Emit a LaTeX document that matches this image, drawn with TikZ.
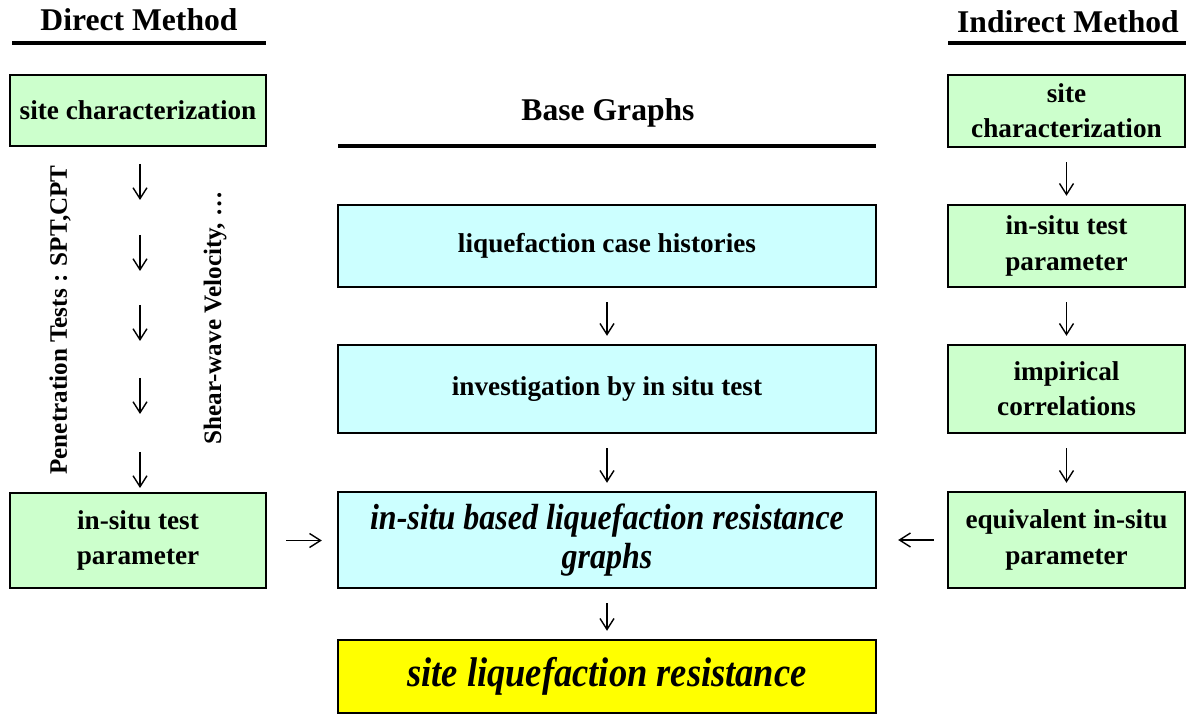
\documentclass[tikz,border=0pt]{standalone}
\usepackage{fontspec}
\setmainfont{Liberation Serif}
\newfontfamily\narrowit[FakeStretch=0.88]{Liberation Serif}
\usetikzlibrary{arrows.meta}
\definecolor{sitegreen}{HTML}{CCFFCC}
\definecolor{basecyan}{HTML}{CCFFFF}
\definecolor{resyellow}{HTML}{FFFF00}

\begin{document}
\begin{tikzpicture}[x=0.02cm, y=-0.02cm,
    box/.style={draw, line width=1.4pt, align=center, inner sep=0pt,
      font=\fontsize{15.5}{20}\selectfont\bfseries},
    lbox/.style={box, fill=sitegreen, minimum width=5.12cm},
    rbox/.style={box, fill=sitegreen, minimum width=4.74cm},
    cbox/.style={box, fill=basecyan, minimum width=10.76cm},
    bigit/.style={font=\fontsize{#1}{22}\selectfont\narrowit\bfseries\itshape},
    head/.style={font=\fontsize{18}{22}\selectfont\bfseries},
    rot/.style={rotate=90, font=\fontsize{14.3}{17}\selectfont\bfseries},
    rule/.style={line width=2.2pt},
    arr/.style={-{Straight Barb[length=2.2mm,width=2.8mm]}, line width=0.8pt,
      shorten <=0.28cm, shorten >=0.16cm}]
  \useasboundingbox (0,0) rectangle (1186,715);

  % headings
  \node[head] (dm) at (139,20) {Direct Method};
  \node[head] (bg) at (608,113) {Base Graphs};
  \node[head] (im) at (1068,22) {Indirect Method};
  \draw[rule] (12,43) -- (266,43);
  \draw[rule] (338,146) -- (876,146);
  \draw[rule] (948,43) -- (1186,43);

  % direct method
  \node[lbox, minimum height=1.42cm] (ls) at (138,110.5) {site characterization};
  \node[lbox, minimum height=1.9cm] (lp) at (138,540.5) {in-situ test\\parameter};
  \node[rot] (pen) at (60,320) {Penetration Tests : SPT,CPT};
  \node[rot] (vs) at (215,318) {Shear-wave Velocity, \dots};
  \foreach \i/\y in {1/164,2/235,3/305,4/378,5/452} {
    \coordinate (da\i) at (140,\y);
    \coordinate (db\i) at (140,\y+36);
    \draw[arr, shorten <=0pt, shorten >=0pt] (da\i) -- (db\i);
  }

  % base graphs
  \node[cbox, minimum height=1.64cm] (ch) at (607,246) {liquefaction case histories};
  \node[cbox, minimum height=1.76cm] (ci) at (607,389) {investigation by in situ test};
  \node[cbox, minimum height=1.92cm, bigit=20.7] (cg) at (607,540)
    {in-situ based liquefaction resistance\\graphs};
  \node[cbox, fill=resyellow, minimum height=1.46cm, bigit=23.6] (cr) at (607,676.5)
    {site liquefaction resistance};
  \draw[arr] (ch) -- (ci);
  \draw[arr] (ci) -- (cg);
  \draw[arr] (cg) -- (cr);

  % indirect method
  \node[rbox, minimum height=1.44cm] (rs) at (1066.5,111) {site\\characterization};
  \node[rbox, minimum height=1.64cm] (rp) at (1066.5,246) {in-situ test\\parameter};
  \node[rbox, minimum height=1.76cm] (rc) at (1066.5,389) {impirical\\correlations};
  \node[rbox, minimum height=1.92cm] (re) at (1066.5,540) {equivalent in-situ\\parameter};
  \draw[arr] (rs) -- (rp);
  \draw[arr] (rp) -- (rc);
  \draw[arr] (rc) -- (re);

  % into the graphs
  \draw[arr, shorten <=0.38cm, shorten >=0.3cm] (lp) -- (lp -| cg.west);
  \draw[arr, shorten <=0.26cm, shorten >=0.42cm] (re) -- (re -| cg.east);
\end{tikzpicture}
\end{document}
